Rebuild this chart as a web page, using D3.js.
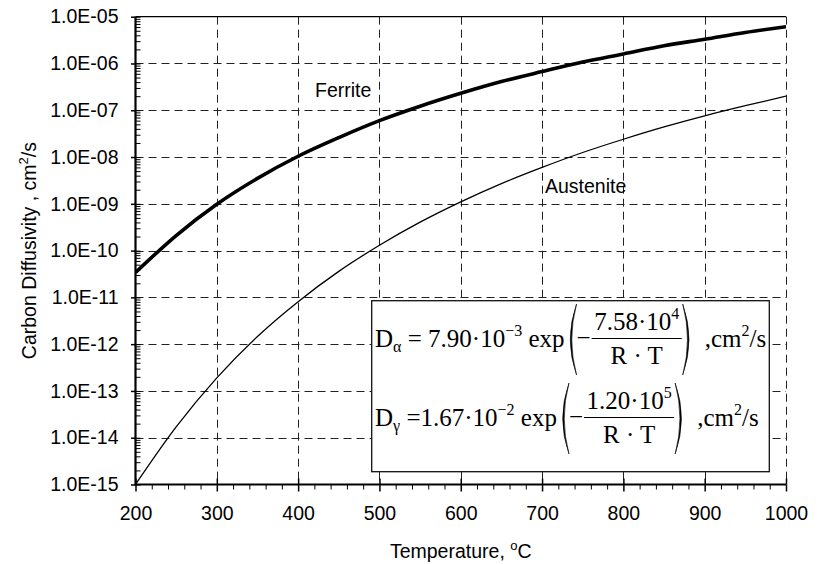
<!DOCTYPE html>
<html lang="en">
<head>
  <meta charset="UTF-8" />
  <title>Carbon Diffusivity</title>
  <script src="https://d3js.org/d3.v7.min.js"></script>
  <style>
    body, html {
      margin: 0;
      padding: 0;
      background: #fff;
    }
    svg {
      display: block;
      font-family: Arial, 'Liberation Sans', sans-serif;
    }
    .eq {
      font-family: 'Times New Roman', 'Liberation Serif', serif;
    }
  </style>
</head>
<body>
  <script>
    // Values (temperature in deg C, D in cm^2/s)
    const temps = [200, 250, 300, 350, 400, 450, 500, 550, 600, 650, 700, 750, 800, 850, 900, 950, 1000];
    const ferrite = [3.4e-11, 2.1e-10, 9.8e-10, 3.5e-9, 1.04e-8, 2.6e-8, 6.0e-8, 1.22e-7, 2.3e-7, 4.1e-7,
                     6.7e-7, 1.07e-6, 1.6e-6, 2.4e-6, 3.3e-6, 4.6e-6, 6.1e-6];
    const austenite = [1.0e-15, 1.7e-14, 1.9e-13, 1.46e-12, 8.1e-12, 3.6e-11, 1.3e-10, 4.05e-10, 1.1e-9, 2.7e-9,
                       6.0e-9, 1.25e-8, 2.4e-8, 4.4e-8, 7.6e-8, 1.25e-7, 2.0e-7];
    const seriesNames = ['Ferrite', 'Austenite'];

    const xTicks = [200, 300, 400, 500, 600, 700, 800, 900, 1000];
    const yTicks = [1e-15, 1e-14, 1e-13, 1e-12, 1e-11, 1e-10, 1e-9, 1e-8, 1e-7, 1e-6, 1e-5];
    const yTickLabels = ['1.0E-15', '1.0E-14', '1.0E-13', '1.0E-12', '1.0E-11', '1.0E-10',
                         '1.0E-09', '1.0E-08', '1.0E-07', '1.0E-06', '1.0E-05'];

    // Equation box text
    const equations = [
      { sym: 'α', eq: ' = ', coef: '7.90', cexp: '−3', num: '7.58', nexp: '4' },
      { sym: 'γ', eq: ' =', coef: '1.67', cexp: '−2', num: '1.20', nexp: '5' }
    ];

    const width = 820, height = 564;
    const pLeft = 135.5, pRight = 786, pTop = 16.7, pBottom = 484.5;

    const svg = d3.select('body').append('svg')
      .attr('width', width)
      .attr('height', height);

    const x = d3.scaleLinear().domain([200, 1000]).range([pLeft, pRight]);
    const y = d3.scaleLog().domain([1e-15, 1e-5]).range([pBottom, pTop]);

    // Dashed grid
    const grid = svg.append('g')
      .attr('stroke', '#222')
      .attr('stroke-width', 1)
      .attr('stroke-dasharray', '8,5');

    grid.selectAll('.hg')
      .data(yTicks.slice(1, -1))
      .enter().append('line')
      .attr('x1', pLeft).attr('x2', pRight)
      .attr('y1', d => Math.round(y(d)) + 0.5)
      .attr('y2', d => Math.round(y(d)) + 0.5);

    grid.selectAll('.vg')
      .data(xTicks.slice(1))
      .enter().append('line')
      .attr('y1', pTop).attr('y2', pBottom)
      .attr('x1', d => Math.round(x(d)) + 0.5)
      .attr('x2', d => Math.round(x(d)) + 0.5);

    // Top border
    svg.append('line')
      .attr('x1', pLeft).attr('x2', pRight)
      .attr('y1', pTop).attr('y2', pTop)
      .attr('stroke', '#000')
      .attr('stroke-width', 1.3);

    // Curves
    svg.append('clipPath').attr('id', 'plot')
      .append('rect')
      .attr('x', pLeft).attr('y', pTop)
      .attr('width', pRight - pLeft).attr('height', pBottom - pTop);

    const line = d3.line()
      .x(d => x(d[0]))
      .y(d => y(d[1]))
      .curve(d3.curveMonotoneX);

    const curves = [
      { name: seriesNames[0], values: ferrite, w: 3.6 },
      { name: seriesNames[1], values: austenite, w: 1.3 }
    ];

    svg.append('g')
      .attr('clip-path', 'url(#plot)')
      .selectAll('path')
      .data(curves)
      .enter().append('path')
      .attr('fill', 'none')
      .attr('stroke', '#000')
      .attr('stroke-width', d => d.w)
      .attr('d', d => line(temps.map((t, i) => [t, d.values[i]])));

    // Series labels
    svg.append('text')
      .attr('x', 315).attr('y', 97)
      .attr('font-size', 19.5)
      .text(seriesNames[0]);

    svg.append('text')
      .attr('x', 545).attr('y', 193)
      .attr('font-size', 19.5)
      .text(seriesNames[1]);

    // Y axis: outer major ticks with labels
    const yAxis = svg.append('g')
      .attr('transform', `translate(${pLeft},0)`)
      .call(d3.axisLeft(y)
        .tickValues(yTicks)
        .tickSizeInner(4.5)
        .tickSizeOuter(0)
        .tickPadding(12.5)
        .tickFormat((d, i) => yTickLabels[i]));
    yAxis.select('.domain').remove();
    yAxis.selectAll('text').attr('font-size', 19.5).attr('fill', '#000')
      .style('font-family', "Arial, 'Liberation Sans', sans-serif");
    yAxis.selectAll('line').attr('stroke-width', 1.5);

    // Y axis: inner minor ticks (2..9 of each decade) and inner half of majors
    const yMinor = [];
    yTicks.slice(0, -1).forEach(k => {
      for (let m = 1; m <= 9; m++) yMinor.push(m * k);
    });
    const yIn = svg.append('g')
      .attr('transform', `translate(${pLeft},0)`)
      .call(d3.axisRight(y).tickValues(yMinor.concat([1e-5])).tickSize(5).tickFormat(''));
    yIn.select('.domain').remove();
    yIn.selectAll('line').attr('stroke-width', 1);

    // X axis: majors with labels
    const xAxis = svg.append('g')
      .attr('transform', `translate(0,${pBottom})`)
      .call(d3.axisBottom(x)
        .tickValues(xTicks)
        .tickSizeInner(7)
        .tickSizeOuter(0)
        .tickPadding(15)
        .tickFormat(d3.format('d')));
    xAxis.select('.domain').remove();
    xAxis.selectAll('text').attr('font-size', 19.5).attr('fill', '#000')
      .style('font-family', "Arial, 'Liberation Sans', sans-serif");
    xAxis.selectAll('line').attr('stroke-width', 1.5);

    const xUp = svg.append('g')
      .attr('transform', `translate(0,${pBottom})`)
      .call(d3.axisTop(x).tickValues(xTicks).tickSize(6).tickFormat(''));
    xUp.select('.domain').remove();
    xUp.selectAll('line').attr('stroke-width', 1.5);

    const xMinor = d3.range(200, 1001, 20).filter(v => v % 100 !== 0);
    const xMin = svg.append('g')
      .attr('transform', `translate(0,${pBottom})`)
      .call(d3.axisBottom(x).tickValues(xMinor).tickSize(5).tickFormat(''));
    xMin.select('.domain').remove();
    xMin.selectAll('line').attr('stroke-width', 1);

    // Axis lines
    svg.append('line')
      .attr('x1', pLeft).attr('x2', pLeft)
      .attr('y1', pTop).attr('y2', pBottom + 1)
      .attr('stroke', '#000').attr('stroke-width', 2.2);
    svg.append('line')
      .attr('x1', pLeft).attr('x2', pRight)
      .attr('y1', pBottom).attr('y2', pBottom)
      .attr('stroke', '#000').attr('stroke-width', 2.2);

    // Axis titles
    const xt = svg.append('text')
      .attr('x', (pLeft + pRight) / 2)
      .attr('y', 558)
      .attr('text-anchor', 'middle')
      .attr('font-size', 19.5);
    xt.append('tspan').text('Temperature, ');
    xt.append('tspan').attr('font-size', 13).attr('dy', -8).text('o');
    xt.append('tspan').attr('dy', 8).text('C');

    const yt = svg.append('text')
      .attr('transform', `translate(36,${(pTop + pBottom) / 2}) rotate(-90)`)
      .attr('text-anchor', 'middle')
      .attr('font-size', 19.5);
    yt.append('tspan').text('Carbon Diffusivity , cm');
    yt.append('tspan').attr('font-size', 13).attr('dy', -8).text('2');
    yt.append('tspan').attr('dy', 8).text('/s');

    // Equation box
    svg.append('rect')
      .attr('x', 371.7).attr('y', 300.7)
      .attr('width', 397.6).attr('height', 171)
      .attr('fill', '#fff')
      .attr('stroke', '#111')
      .attr('stroke-width', 1.3);

    // tall bracket drawn as a thin crescent
    function paren(g, x0, base, open) {
      const t = base - 43, b = base + 28, m = (t + b) / 2;
      const xs = open ? x0 + 11 : x0;
      const xo = open ? x0 - 1.5 : x0 + 12.5;
      const xi = open ? x0 + 1.5 : x0 + 9.5;
      g.append('path')
        .attr('d', `M${xs},${t} Q${xo},${m} ${xs},${b} Q${xi},${m} ${xs},${t}Z`)
        .attr('fill', '#000')
        .attr('stroke', '#000')
        .attr('stroke-width', 0.6);
    }

    function eqLine(e, base) {
      const g = svg.append('g').attr('class', 'eq');
      const lt = g.append('text').attr('x', 375).attr('y', base).attr('font-size', 25);
      lt.append('tspan').text('D');
      lt.append('tspan').attr('font-size', 16).attr('dy', 5).text(e.sym);
      lt.append('tspan').attr('dy', -5).text(e.eq + e.coef + '·10');
      lt.append('tspan').attr('font-size', 16).attr('dy', -11).text(e.cexp);
      lt.append('tspan').attr('dy', 11).text(' exp');
      let cx = 375 + lt.node().getComputedTextLength() + 1;

      paren(g, cx, base, true);
      cx += 11;

      const mn = g.append('text').attr('x', cx).attr('y', base - 1).attr('font-size', 25).text('−');
      cx += mn.node().getComputedTextLength() + 1;

      const nt = g.append('text').attr('y', base - 17).attr('font-size', 25).attr('text-anchor', 'middle');
      nt.append('tspan').text(e.num + '·10');
      nt.append('tspan').attr('font-size', 16).attr('dy', -11).text(e.nexp);
      const dt = g.append('text').attr('y', base + 17).attr('font-size', 25).attr('text-anchor', 'middle')
        .text('R · T');
      const wN = nt.node().getComputedTextLength(), wD = dt.node().getComputedTextLength();
      const barW = Math.max(wN, wD) + 5;
      nt.attr('x', cx + barW / 2);
      dt.attr('x', cx + barW / 2);
      g.append('line')
        .attr('x1', cx).attr('x2', cx + barW)
        .attr('y1', base - 8.5).attr('y2', base - 8.5)
        .attr('stroke', '#000').attr('stroke-width', 1.2);
      cx += barW + 1;

      paren(g, cx, base, false);
      cx += 22;

      const ut = g.append('text').attr('x', cx).attr('y', base).attr('font-size', 25);
      ut.append('tspan').text(',cm');
      ut.append('tspan').attr('font-size', 16).attr('dy', -11).text('2');
      ut.append('tspan').attr('dy', 11).text('/s');
    }

    eqLine(equations[0], 347);
    eqLine(equations[1], 426);
  </script>
</body>
</html>
